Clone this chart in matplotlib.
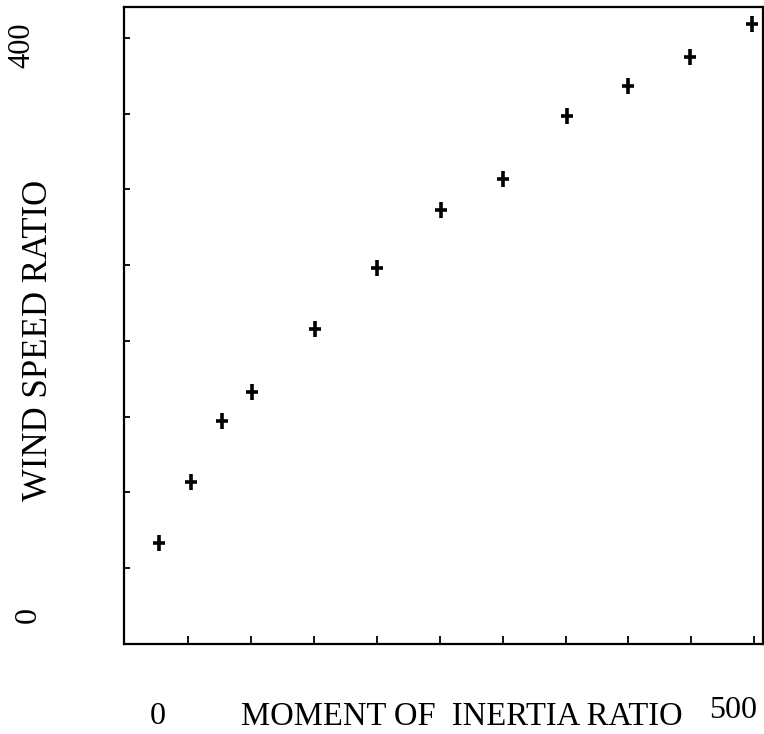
import matplotlib
matplotlib.use("Agg")
import matplotlib.pyplot as plt

# ---------------------------- data ----------------------------
inertia_ratio = [27, 52, 77, 101, 151, 200, 251, 300, 351, 400, 449, 498]
wind_speed_ratio = [66.7, 106.9, 147.2, 166.3, 207.9, 248.2, 286.5, 306.9, 348.5, 368.3, 387.5, 409.2]
x_ticks = [50, 100, 150, 200, 250, 300, 350, 400, 450, 500]
y_ticks = [50, 100, 150, 200, 250, 300, 350, 400]

plt.rcParams['font.family'] = ['Liberation Serif', 'DejaVu Serif']

fig = plt.figure(figsize=(7.64, 7.34), dpi=100)
ax = fig.add_axes([0.1623, 0.1226, 0.8364, 0.868])

# crosses in the scan are taller than wide: draw them as two strokes
ax.plot(inertia_ratio, wind_speed_ratio, linestyle='none', marker='|',
        markersize=11, markeredgewidth=2.6, color='black')
ax.plot(inertia_ratio, wind_speed_ratio, linestyle='none', marker='_',
        markersize=8, markeredgewidth=2.6, color='black')

ax.set_xlim(-1, 507)
ax.set_ylim(0, 420.5)
ax.set_xticks(x_ticks)
ax.set_yticks(y_ticks)
ax.tick_params(axis='x', direction='in', length=6, width=1.3, labelbottom=False)
ax.tick_params(axis='y', direction='in', length=4, width=1.3, labelleft=False)
for s in ax.spines.values():
    s.set_linewidth(1.6)

# ---------------------------- labels as in the scan ----------------------------
fig.text(158 / 764, 1 - 716 / 734, '0', fontsize=23, ha='center', va='center')
fig.text(733 / 764, 1 - 711 / 734, '500', fontsize=23, ha='center', va='center')
fig.text(462 / 764, 1 - 717 / 734, 'MOMENT OF  INERTIA RATIO', fontsize=23.5,
         ha='center', va='center')
fig.text(22 / 764, 1 - 45 / 734, '400', fontsize=22, rotation=90, ha='center', va='center')
fig.text(28 / 764, 1 - 615 / 734, '0', fontsize=23, rotation=90, ha='center', va='center')
fig.text(39 / 764, 1 - 340 / 734, 'WIND SPEED RATIO', fontsize=25, rotation=90,
         ha='center', va='center')

fig.savefig('out.png', dpi=100)
